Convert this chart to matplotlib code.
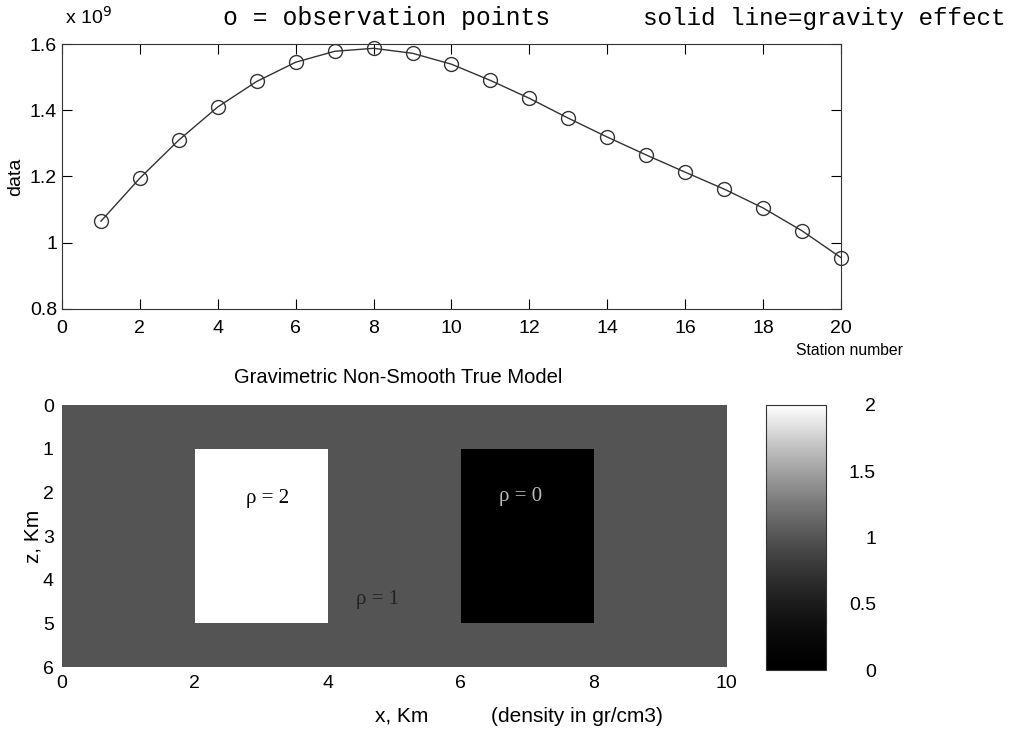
import numpy as np
import matplotlib
matplotlib.use("Agg")
import matplotlib.pyplot as plt
from matplotlib.colors import LinearSegmentedColormap

plt.rcParams['font.family'] = ['Liberation Sans', 'DejaVu Sans']

# station data (units of 1e9)
stations = np.arange(1, 21)
data = [1.065, 1.195, 1.310, 1.410, 1.487, 1.545, 1.578, 1.587, 1.572, 1.539,
        1.490, 1.436, 1.376, 1.319, 1.265, 1.213, 1.162, 1.105, 1.036, 0.955]

# density model (gr/cm3), 10 km x 6 km
model_x = [0, 10]
model_z = [0, 6]
background = 1.0
blocks = [  # x0, x1, z0, z1, rho
    (2, 4, 1, 5, 2.0),
    (6, 8, 1, 5, 0.0),
]
labels = [(3.1, 2.15, 'ρ = 2', 'black'),
          (6.9, 2.1, 'ρ = 0', '#bbbbbb'),
          (4.75, 4.45, 'ρ = 1', '#222222')]

nx, nz = 200, 120
xs = np.linspace(model_x[0], model_x[1], nx, endpoint=False) + 0.025
zs = np.linspace(model_z[0], model_z[1], nz, endpoint=False) + 0.025
X, Z = np.meshgrid(xs, zs)
rho = np.full(X.shape, background)
for x0, x1, z0, z1, r in blocks:
    rho[(X >= x0) & (X < x1) & (Z >= z0) & (Z < z1)] = r

cmap = LinearSegmentedColormap.from_list('halftone', ['black', 'white'], gamma=1.6)

fig = plt.figure(figsize=(10.21, 7.31), dpi=100)

# TOP PANEL

ax1 = fig.add_axes([0.0607, 0.5773, 0.763, 0.3625])
ax1.plot(stations, data, '-', color='#333333', lw=1.0)
ax1.plot(stations, data, 'o', mfc='none', mec='#333333', ms=10, mew=1.0,
         clip_on=False)
ax1.set_xlim(0, 20)
ax1.set_ylim(0.8, 1.6)
ax1.set_xticks(np.arange(0, 21, 2))
ax1.set_yticks([0.8, 1.0, 1.2, 1.4, 1.6])
ax1.set_yticklabels(['0.8', '1', '1.2', '1.4', '1.6'])
ax1.tick_params(direction='in', top=True, right=True, length=7, labelsize=14)
ax1.tick_params(axis='x', pad=8)
ax1.set_ylabel('data', fontsize=14, labelpad=4)
for s in ax1.spines.values():
    s.set_color('#333333')

fig.text(0.064, 0.962, r'x 10$^{9}$', fontsize=14, ha='left', va='bottom')
fig.text(0.379, 0.975, 'o = observation points', family='Liberation Mono',
         fontsize=17.8, ha='center', va='center')
fig.text(0.807, 0.975, 'solid line=gravity effect', family='Liberation Mono',
         fontsize=17.5, ha='center', va='center')
fig.text(0.8325, 0.52, 'Station number', fontsize=11.3, ha='center', va='center')

# BOTTOM PANEL

ax2 = fig.add_axes([0.0607, 0.0875, 0.651, 0.3584])
im = ax2.imshow(rho, cmap=cmap, vmin=0, vmax=2, aspect='auto',
                extent=[model_x[0], model_x[1], model_z[1], model_z[0]],
                interpolation='nearest')
ax2.set_xticks(np.arange(0, 11, 2))
ax2.set_yticks(np.arange(0, 7, 1))
ax2.tick_params(length=0, labelsize=14, pad=6)
for s in ax2.spines.values():
    s.set_visible(False)
for x, z, txt, c in labels:
    ax2.text(x, z, txt, family='Liberation Serif', fontsize=15, color=c,
             ha='center', va='center')
ax2.set_ylabel('z, Km', fontsize=15, labelpad=0)
fig.text(0.393, 0.02, 'x, Km', fontsize=15, ha='center', va='center')
fig.text(0.565, 0.02, '(density in gr/cm3)', fontsize=15, ha='center', va='center')
fig.text(0.39, 0.483, 'Gravimetric Non-Smooth True Model', fontsize=14.5,
         ha='center', va='center')

cax = fig.add_axes([0.750, 0.0834, 0.059, 0.3626])
cb = fig.colorbar(im, cax=cax, ticks=[0, 0.5, 1, 1.5, 2])
cb.ax.set_yticklabels(['0', '0.5', '1', '1.5', '2'])
cb.ax.tick_params(length=0, labelsize=14, pad=36)
for lab in cb.ax.get_yticklabels():
    lab.set_horizontalalignment('right')
cb.outline.set_edgecolor('#333333')

fig.savefig('out.png', dpi=100)
